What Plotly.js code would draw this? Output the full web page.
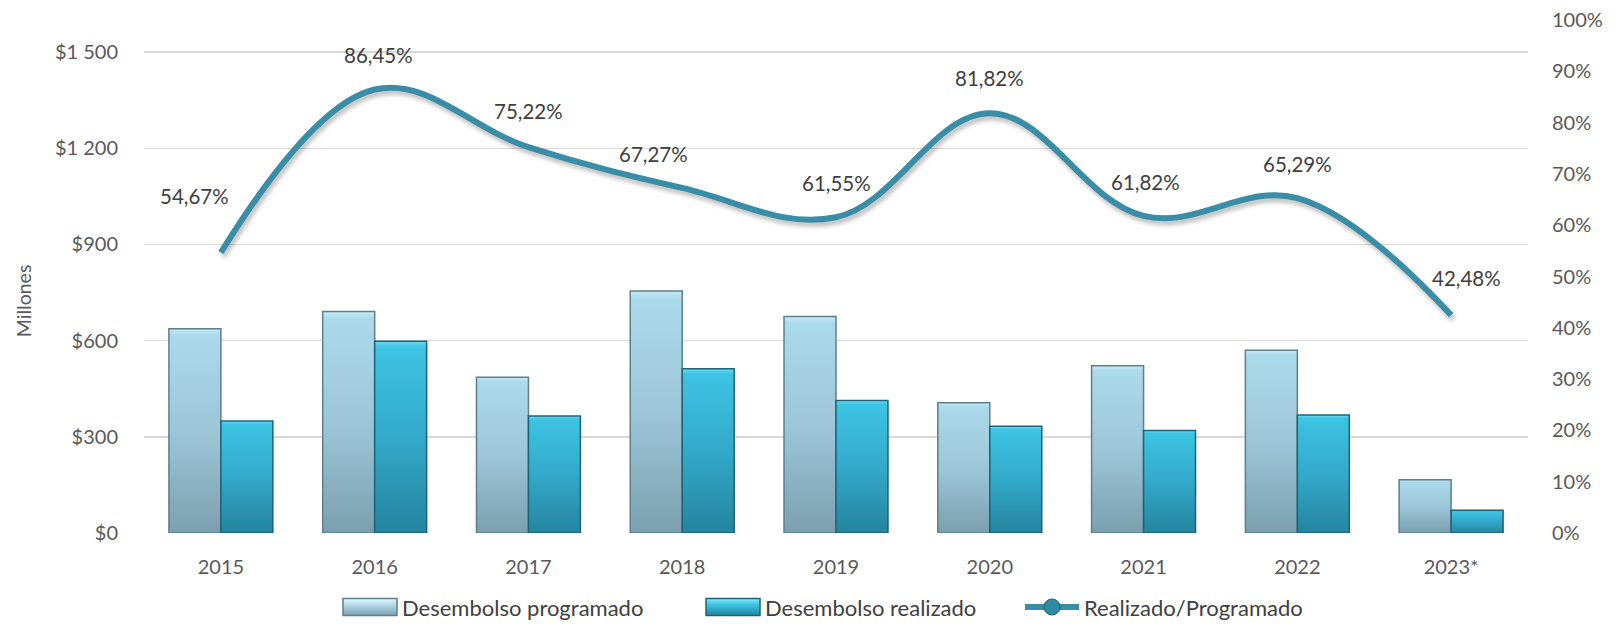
<!DOCTYPE html>
<html><head><meta charset="utf-8">
<script src="https://cdn.plot.ly/plotly-3.0.1.min.js"></script>
<style>body{margin:0;background:#fff}#chart{width:1615px;height:626px}</style>
</head><body><div id="chart"></div>
<script>
const years = ["2015","2016","2017","2018","2019","2020","2021","2022","2023*"];
const programado = [637, 691, 486, 755, 675, 406, 522, 570, 166];
const realizado = [349, 598, 365, 512, 413, 333, 320, 368, 71];
const ratio = [0.5467, 0.8645, 0.7522, 0.6727, 0.6155, 0.8182, 0.6182, 0.6529, 0.4248];
const ratioLabels = ["54,67%","86,45%","75,22%","67,27%","61,55%","81,82%","61,82%","65,29%","42,48%"];
const leftTickVals = [0,300,600,900,1200,1500];
const leftTickText = ["$0","$300","$600","$900","$1 200","$1 500"];
const rightTickVals = [0,0.1,0.2,0.3,0.4,0.5,0.6,0.7,0.8,0.9,1];
const rightTickText = ["0%","10%","20%","30%","40%","50%","60%","70%","80%","90%","100%"];

// label offsets (px) of the data labels relative to their points
const labelDx = [-26, 4, 0, -29, 0, 0, 2, 0, 15];
const labelDy = [57, 35, 36, 34, 34, 35, 34, 34, 37];
// left edge (px) of each legend symbol
const legendSymbolLeft = [343, 706, 1025];

const FONT = "Lato, 'Open Sans', sans-serif";
const traces = [
  {type:"bar", name:"Desembolso programado", x:years, y:programado,
   marker:{color:"#9CC5D7", line:{color:"#5E7F8C", width:1.5}}},
  {type:"bar", name:"Desembolso realizado", x:years, y:realizado,
   marker:{color:"#33AACB", line:{color:"#1D6378", width:1.5}}},
  {type:"scatter", mode:"lines", name:"Realizado/Programado", x:years, y:ratio, yaxis:"y2",
   line:{color:"#3A8DA7", width:6, shape:"spline", smoothing:1.1}, showlegend:false},
  {type:"scatter", mode:"lines+markers", name:"Realizado/Programado", x:[null], y:[null], yaxis:"y2",
   line:{color:"#3A8DA7", width:6}, marker:{color:"#2E8AA6", size:16, line:{color:"#1D6378",width:1}}}
];
const ann = years.map((yr,i)=>({x:i, y:ratio[i], yref:"y2", xref:"x", text:ratioLabels[i],
  showarrow:false, xshift:labelDx[i], yshift:labelDy[i], font:{family:FONT, size:20.5, color:"#404040"}}));
ann.push({xref:"paper", yref:"paper", x:-0.0874, y:0.452, xanchor:"center", yanchor:"middle", text:"Millones", textangle:-90, showarrow:false,
  font:{family:FONT, size:19.5, color:"#595959"}});
const layout = {
  width:1615, height:626,
  margin:{l:144, r:87, t:20, b:93},
  paper_bgcolor:"#fff", plot_bgcolor:"#fff",
  barmode:"group", bargap:0.324, bargroupgap:0,
  font:{family:FONT, size:20, color:"#595959"},
  xaxis:{type:"category", categoryarray:years, range:[-0.5, years.length-0.5], showgrid:false, zeroline:false, showline:false,
    ticks:"outside", ticklen:16, tickcolor:"rgba(0,0,0,0)",
    tickfont:{family:FONT, size:20, color:"#595959"}},
  yaxis:{range:[0,1600], tickvals:leftTickVals, ticktext:leftTickText, showgrid:true, gridcolor:"#D9D9D9", gridwidth:1.5,
    zeroline:false, showline:false, ticks:"outside", ticklen:21, tickcolor:"rgba(0,0,0,0)",
    tickfont:{family:FONT, size:20, color:"#595959"}},
  yaxis2:{range:[0,1], overlaying:"y", side:"right", tickvals:rightTickVals, ticktext:rightTickText, showgrid:false,
    zeroline:false, showline:false, ticks:"outside", ticklen:19, tickcolor:"rgba(0,0,0,0)",
    tickfont:{family:FONT, size:20, color:"#595959"}},
  legend:{orientation:"h", x:0.476, xref:"paper", xanchor:"center", yref:"container", y:0.03, yanchor:"middle",
    font:{family:FONT, size:22, color:"#404040"}, traceorder:"normal", itemwidth:54},
  annotations:ann,
  showlegend:true
};
Plotly.newPlot("chart", traces, layout, {displayModeBar:false, staticPlot:true}).then(gd=>{
  const svg = gd.querySelector(".main-svg");
  const ns = "http://www.w3.org/2000/svg";
  let defs = svg.querySelector("defs");
  if(!defs){defs=document.createElementNS(ns,"defs");svg.insertBefore(defs,svg.firstChild);}
  function grad(id, stops){
    const g=document.createElementNS(ns,"linearGradient");
    g.setAttribute("id",id);g.setAttribute("x1","0");g.setAttribute("y1","0");g.setAttribute("x2","0");g.setAttribute("y2","1");
    stops.forEach(([o,c])=>{const s=document.createElementNS(ns,"stop");s.setAttribute("offset",o);s.setAttribute("stop-color",c);g.appendChild(s);});
    defs.appendChild(g);
  }
  grad("gProg",[["0","#C8EBF6"],["0.03","#ABDAEB"],["0.5","#9CC6D8"],["1","#7B9FAF"]]);
  grad("gReal",[["0","#6FDCF2"],["0.03","#3DC3E3"],["0.5","#33A9CA"],["1","#24859F"]]);
  grad("gProgL",[["0","#E6F8FC"],["0.35","#B5DDEA"],["1","#7B9FAF"]]);
  grad("gRealL",[["0","#8BEBFA"],["0.35","#3DC3E3"],["1","#24859F"]]);
  const bars = gd.querySelectorAll(".barlayer .trace");
  const ids=["gProg","gReal"];
  bars.forEach((t,i)=>{t.querySelectorAll("path").forEach(p=>{p.style.fill="url(#"+ids[i]+")";});});
  // soft shadow under the ratio line
  gd.querySelectorAll(".scatterlayer .trace .js-line").forEach(p=>{p.style.filter="drop-shadow(2px 4px 2px rgba(0,0,0,0.25))";});
  const lids=["gProgL","gRealL"];
  const leg = gd.querySelectorAll(".legend .traces");
  gd.querySelectorAll(".legend [clip-path]").forEach(el=>el.removeAttribute("clip-path"));
  const svgLeft = svg.getBoundingClientRect().left;
  leg.forEach((t,i)=>{
    const txt = t.querySelector("text.legendtext");
    const ptsG = t.querySelector(".legendpoints");
    const linePath = t.querySelector(".legendlines path");
    if(i<2){
      t.querySelectorAll(".legendpoints path").forEach(p=>{p.setAttribute("d","M-27,-8.5H27V8.5H-27Z"); p.style.fill="url(#"+lids[i]+")";});
    } else if(linePath){
      linePath.setAttribute("d","M0,0h54");
      t.querySelectorAll(".legendpoints path").forEach(p=>p.setAttribute("transform","translate(27,0)"));
      if(txt) txt.setAttribute("x", 59);
    }
    if(legendSymbolLeft[i]===undefined) return;
    const ref = (i<2 ? ptsG : linePath);
    if(!ref) return;
    const left = ref.getBoundingClientRect().left - svgLeft;
    const dx = legendSymbolLeft[i] - left;
    const tr = t.getAttribute("transform") || "translate(0,0)";
    const m = tr.match(/translate\(\s*([-\d.e]+)[ ,]+([-\d.e]+)\s*\)/);
    const x0 = m ? parseFloat(m[1]) : 0, y0 = m ? parseFloat(m[2]) : 0;
    t.setAttribute("transform","translate("+(x0+dx)+","+y0+")");
  });
});
</script></body></html>
